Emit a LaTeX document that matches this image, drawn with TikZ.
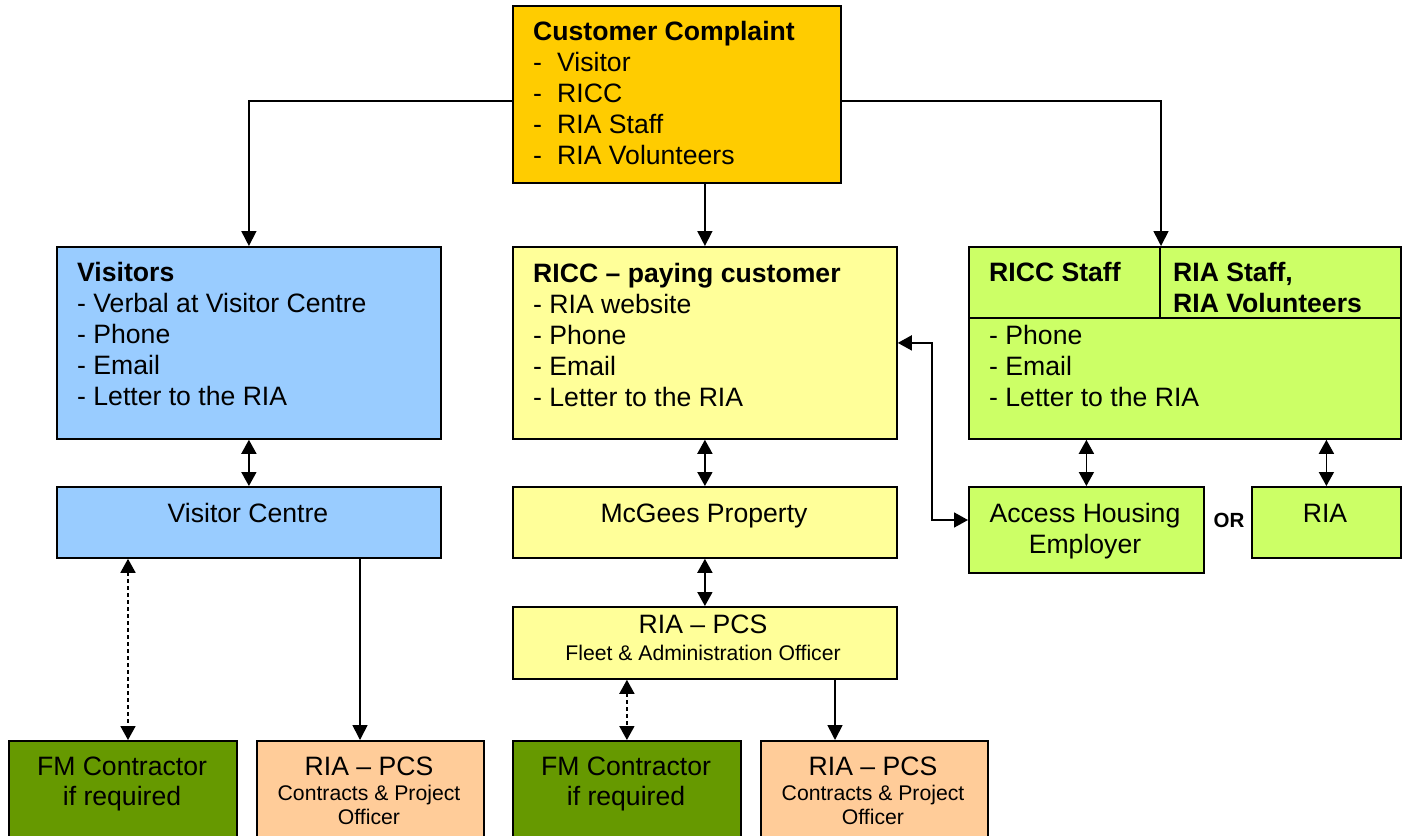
\documentclass[tikz,border=0pt]{standalone}
\usepackage{fontspec}
\setmainfont{Liberation Sans}
\usetikzlibrary{arrows.meta,calc}
\definecolor{cOrange}{HTML}{FFCC00}
\definecolor{cBlue}{HTML}{99CCFF}
\definecolor{cYellow}{HTML}{FFFF99}
\definecolor{cLime}{HTML}{CCFF66}
\definecolor{cDark}{HTML}{669900}
\definecolor{cPeach}{HTML}{FFCC99}
\begin{document}
\begin{tikzpicture}[x=1pt,y=-1pt,
  box/.style={draw=black, line width=1.8pt, inner sep=0pt, anchor=north west},
  txt/.style={inner sep=0pt, anchor=north west, align=left, font=\fontsize{26.6}{31}\selectfont},
  ctxt/.style={inner sep=0pt, align=center, font=\fontsize{26.6}{31}\selectfont},
  conn/.style={line width=1.7pt},
  arr/.style={conn, -{Triangle[length=15pt,width=15pt]}},
  darr/.style={conn, {Triangle[length=14pt,width=15pt]}-{Triangle[length=14pt,width=15pt]}},
  dsh/.style={dash pattern=on 4pt off 3pt},
]
\useasboundingbox (0,0) rectangle (1405,835);
\newcommand{\dsh}{\makebox[24pt][l]{-}}
\newcommand{\smallfnt}{\fontsize{21.2}{24}\selectfont}

% boxes
\node[box, fill=cOrange, minimum width=328pt, minimum height=177pt] (cc) at (512,5) {};
\node[box, fill=cBlue, minimum width=384pt, minimum height=192pt] (vis) at (56,246) {};
\node[box, fill=cBlue, minimum width=384pt, minimum height=71pt] (vc) at (56,486) {};
\node[box, fill=cYellow, minimum width=384pt, minimum height=192pt] (ricc) at (512,246) {};
\node[box, fill=cYellow, minimum width=384pt, minimum height=71pt] (mcg) at (512,486) {};
\node[box, fill=cYellow, minimum width=384pt, minimum height=72pt] (pcs) at (512,606) {};
\node[box, fill=cLime, minimum width=432pt, minimum height=192pt] (staff) at (968,246) {};
\node[box, fill=cLime, minimum width=235pt, minimum height=86pt] (acc) at (968,486) {};
\node[box, fill=cLime, minimum width=149pt, minimum height=71pt] (ria) at (1251,486) {};
\node[box, fill=cDark, minimum width=228pt, minimum height=100pt] (fm1) at (8,740) {};
\node[box, fill=cPeach, minimum width=227pt, minimum height=100pt] (pc1) at (256,740) {};
\node[box, fill=cDark, minimum width=228pt, minimum height=100pt] (fm2) at (512,740) {};
\node[box, fill=cPeach, minimum width=227pt, minimum height=100pt] (pc2) at (760,740) {};

% staff box dividers
\draw[line width=1.8pt] ($(staff.north west)+(192,0)$) -- ($(staff.north west)+(192,72)$);
\draw[line width=1.8pt] ($(staff.north west)+(0,72)$) -- ($(staff.north east)+(0,72)$);

% texts
\node[txt] (tcc) at (533,21) {\textbf{Customer Complaint}\\\dsh Visitor\\\dsh RICC\\\dsh RIA Staff\\\dsh RIA Volunteers};
\node[txt] (tvis) at (77,262) {\textbf{Visitors}\\- Verbal at Visitor Centre\\- Phone\\- Email\\- Letter to the RIA};
\node[txt] (tricc) at (533,263) {\textbf{RICC – paying customer}\\- RIA website\\- Phone\\- Email\\- Letter to the RIA};
\node[txt] (tst1) at (989,262) {\textbf{RICC Staff}};
\node[txt] (tst2) at (1173,262) {\textbf{RIA Staff,}\\\textbf{RIA Volunteers}};
\node[txt] (tst3) at (989,325) {- Phone\\- Email\\- Letter to the RIA};
\node[ctxt, anchor=base] (tvc) at (248,522) {Visitor Centre};
\node[ctxt, anchor=base] (tmcg) at (704,522) {McGees Property};
\node[ctxt, anchor=base] (tria) at (1325,522) {RIA};
\node[ctxt, anchor=north] (tacc) at (1085,503) {Access Housing\\Employer};
\node[ctxt, anchor=north] (tpcs) at (703,615) {RIA – PCS\\[-4pt]{\smallfnt Fleet \& Administration Officer}};
\node[ctxt, anchor=north] (tfm1) at (122,757) {FM Contractor\\[-1pt]if required};
\node[ctxt, anchor=north] (tfm2) at (626,757) {FM Contractor\\[-1pt]if required};
\node[ctxt, anchor=north] (tpc1) at (369,757) {RIA – PCS\\[-6pt]{\smallfnt Contracts \& Project}\\[-7pt]{\smallfnt Officer}};
\node[ctxt, anchor=north] (tpc2) at (873,757) {RIA – PCS\\[-6pt]{\smallfnt Contracts \& Project}\\[-7pt]{\smallfnt Officer}};
\node[inner sep=0pt, anchor=base, font=\fontsize{20.5}{24}\selectfont\bfseries] (or) at (1229,527) {OR};

% connectors
\coordinate (ccL) at ($(cc.north west)+(0,96)$);
\coordinate (ccR) at ($(cc.north east)+(0,96)$);
\coordinate (divtop) at ($(staff.north west)+(193,0)$);
\draw[arr] (ccL) -| (vis.north);
\draw[arr] (ccR) -| (divtop);
\draw[arr] (cc.south -| ricc.north) -- (ricc.north);

\draw[darr] (vis.south) -- (vc.north);
\draw[darr] (ricc.south) -- (mcg.north);
\draw[darr] (mcg.south) -- (pcs.north);
\draw[darr] (staff.south -| acc.north) -- (acc.north);
\draw[darr] (staff.south -| ria.north) -- (ria.north);

\coordinate (accW) at ($(acc.north west)+(0,34)$);
\draw[darr] (ricc.east) -- ++(34,0) |- (accW);

\coordinate (vcA) at ($(vc.south west)+(72,0)$);
\coordinate (vcB) at ($(vc.south west)+(304,0)$);
\draw[darr, dsh] (vcA) -- (vcA |- fm1.north);
\draw[arr] (vcB) -- (vcB |- pc1.north);
\draw[darr, dsh] (pcs.south -| fm2.north) -- (fm2.north);
\coordinate (pcsB) at ($(pcs.south west)+(323,0)$);
\draw[arr] (pcsB) -- (pcsB |- pc2.north);
\end{tikzpicture}
\end{document}
